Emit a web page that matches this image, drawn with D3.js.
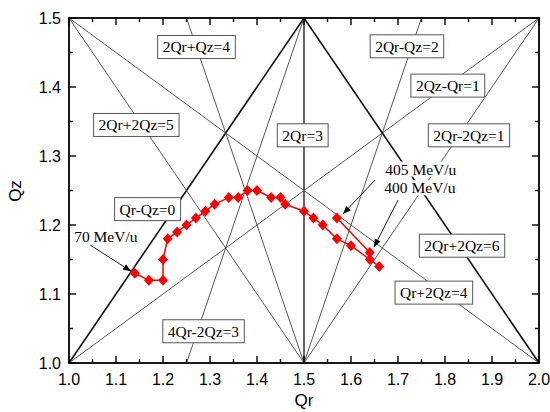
<!DOCTYPE html>
<html>
<head>
<meta charset="utf-8">
<script src="https://cdn.jsdelivr.net/npm/d3@7"></script>
<style>
body { margin: 0; background: #fff; }
</style>
</head>
<body>
<div id="chart"></div>
<script>
// tune data (Qr, Qz)
var qr = [1.14, 1.17, 1.20, 1.20, 1.21, 1.23, 1.25, 1.27, 1.29, 1.31, 1.34, 1.36, 1.38, 1.40, 1.43, 1.45, 1.46, 1.50, 1.52, 1.54, 1.57, 1.60, 1.64, 1.66]
var qz = [1.13, 1.12, 1.12, 1.15, 1.18, 1.19, 1.20, 1.21, 1.22, 1.23, 1.24, 1.24, 1.25, 1.25, 1.24, 1.24, 1.23, 1.22, 1.21, 1.20, 1.18, 1.17, 1.15, 1.14]
var qr_branch = [1.57, 1.64]
var qz_branch = [1.21, 1.16]

// resonance lines m*Qr + n*Qz = p
var res_m = [1, 2, 2, 2, 2, -1, 2, 2, 2, 1, 4]
var res_n = [-1, 0, 1, -1, 2, 2, -2, 2, 2, 2, -2]
var res_p = [0, 3, 4, 2, 5, 1, 1, 6, 6, 4, 3]
var res_text = ["Qr-Qz=0", "2Qr=3", "2Qr+Qz=4", "2Qr-Qz=2", "2Qr+2Qz=5", "2Qz-Qr=1", "2Qr-2Qz=1", "", "2Qr+2Qz=6", "Qr+2Qz=4", "4Qr-2Qz=3"]
var res_kind = ["thick", "mid", "thin", "thin", "thin", "thin", "thin", "thick", "none", "thin", "thin"]
// label box centres (Qr, Qz)
var lab_x = [1.167, 1.497, 1.271, 1.719, 1.143, 1.806, 1.851, 0, 1.836, 1.776, 1.286]
var lab_y = [1.223, 1.330, 1.458, 1.459, 1.345, 1.402, 1.330, 0, 1.170, 1.102, 1.046]

// energy notes
var note_text = ["70 MeV/u", "405 MeV/u", "400 MeV/u"]
var note_x = [1.011, 1.673, 1.671]
var note_y = [1.183, 1.281, 1.254]
var arrow_from = [[1.045, 1.171], [1.651, 1.265], [1.700, 1.236]]
var arrow_to = [[1.132, 1.133], [1.583, 1.216], [1.649, 1.168]]

var x_ticks = [1.0, 1.1, 1.2, 1.3, 1.4, 1.5, 1.6, 1.7, 1.8, 1.9, 2.0]
var y_ticks = [1.0, 1.1, 1.2, 1.3, 1.4, 1.5]

var svg = d3.select("#chart")
  .append("svg")
  .attr("width", 550)
  .attr("height", 412)

var x = d3.scaleLinear().domain([1, 2]).range([69, 539])
var y = d3.scaleLinear().domain([1, 1.5]).range([363, 18])

var defs = svg.append("defs")
defs.append("clipPath").attr("id", "plot")
  .append("rect")
  .attr("x", 69).attr("y", 18).attr("width", 470).attr("height", 345)
defs.append("marker")
  .attr("id", "head")
  .attr("viewBox", "0 -4 8 8")
  .attr("refX", 8).attr("refY", 0)
  .attr("markerWidth", 8).attr("markerHeight", 8)
  .attr("markerUnits", "userSpaceOnUse")
  .attr("orient", "auto")
  .append("path")
  .attr("d", "M0,-3.2L8,0L0,3.2Z")
  .attr("fill", "#000")

var lines_g = svg.append("g").attr("clip-path", "url(#plot)")
var style = {
  thick: {w: 1.6, c: "#111"},
  mid: {w: 1.3, c: "#111"},
  thin: {w: 0.9, c: "#444"}
}
res_m.forEach(function(m, i){
  if(res_kind[i] == "none") return
  let n = res_n[i], p = res_p[i]
  let x1, y1, x2, y2
  if(n == 0){
    x1 = x2 = p / m
    y1 = 1; y2 = 1.5
  } else {
    x1 = 1; x2 = 2
    y1 = (p - m * x1) / n
    y2 = (p - m * x2) / n
  }
  lines_g.append("line")
    .attr("x1", x(x1)).attr("y1", y(y1))
    .attr("x2", x(x2)).attr("y2", y(y2))
    .attr("stroke", style[res_kind[i]].c)
    .attr("stroke-width", style[res_kind[i]].w)
})

// arrows
arrow_from.forEach(function(f, i){
  svg.append("line")
    .attr("x1", x(f[0])).attr("y1", y(f[1]))
    .attr("x2", x(arrow_to[i][0])).attr("y2", y(arrow_to[i][1]))
    .attr("stroke", "#000")
    .attr("stroke-width", 0.9)
    .attr("marker-end", "url(#head)")
})

// data
var diamond = "M0,-5.5L5,0L0,5.5L-5,0Z"
function draw_series(xs, ys){
  let pts = xs.map(function(d, i){ return [d, ys[i]] })
  svg.append("path")
    .datum(pts)
    .attr("d", d3.line().x(function(d){ return x(d[0]) }).y(function(d){ return y(d[1]) }))
    .attr("fill", "none")
    .attr("stroke", "#ff0000")
    .attr("stroke-width", 1.5)
  svg.selectAll(null)
    .data(pts)
    .enter()
    .append("path")
    .attr("d", diamond)
    .attr("transform", function(d){ return "translate(" + x(d[0]) + "," + y(d[1]) + ")" })
    .attr("fill", "#ff0000")
}
draw_series(qr, qz)
draw_series(qr_branch, qz_branch)

// boxed resonance labels
res_text.forEach(function(t, i){
  if(t == "") return
  let g = svg.append("g")
  let txt = g.append("text")
    .attr("x", x(lab_x[i])).attr("y", y(lab_y[i]))
    .attr("text-anchor", "middle")
    .attr("dominant-baseline", "central")
    .attr("font-family", "Liberation Serif, Times New Roman, serif")
    .attr("font-size", 15.5)
    .text(t)
  let b = txt.node().getBBox()
  g.insert("rect", "text")
    .attr("x", b.x - 5).attr("y", y(lab_y[i]) - 11.5)
    .attr("width", b.width + 10).attr("height", 23)
    .attr("fill", "#fff")
    .attr("stroke", "#555")
    .attr("stroke-width", 1)
})

// energy notes (white background, no border)
note_text.forEach(function(t, i){
  let g = svg.append("g")
  let txt = g.append("text")
    .attr("x", x(note_x[i])).attr("y", y(note_y[i]))
    .attr("dominant-baseline", "central")
    .attr("font-family", "Liberation Serif, Times New Roman, serif")
    .attr("font-size", 15.5)
    .text(t)
  let b = txt.node().getBBox()
  g.insert("rect", "text")
    .attr("x", b.x - 1).attr("y", b.y + 1)
    .attr("width", b.width + 2).attr("height", b.height - 2)
    .attr("fill", "#fff")
})

// axes
var minor_x = d3.range(1.05, 2, 0.1)
var minor_y = d3.range(1.05, 1.5, 0.1)
var ax = svg.append("g").attr("stroke", "#000").attr("stroke-width", 1.4)
x_ticks.forEach(function(t){
  ax.append("line").attr("x1", x(t)).attr("x2", x(t)).attr("y1", 363).attr("y2", 356)
  ax.append("line").attr("x1", x(t)).attr("x2", x(t)).attr("y1", 18).attr("y2", 25)
})
minor_x.forEach(function(t){
  ax.append("line").attr("x1", x(t)).attr("x2", x(t)).attr("y1", 363).attr("y2", 359)
  ax.append("line").attr("x1", x(t)).attr("x2", x(t)).attr("y1", 18).attr("y2", 22)
})
y_ticks.forEach(function(t){
  ax.append("line").attr("x1", 69).attr("x2", 76).attr("y1", y(t)).attr("y2", y(t))
  ax.append("line").attr("x1", 539).attr("x2", 532).attr("y1", y(t)).attr("y2", y(t))
})
minor_y.forEach(function(t){
  ax.append("line").attr("x1", 69).attr("x2", 73).attr("y1", y(t)).attr("y2", y(t))
  ax.append("line").attr("x1", 539).attr("x2", 535).attr("y1", y(t)).attr("y2", y(t))
})
svg.append("rect")
  .attr("x", 69).attr("y", 18).attr("width", 470).attr("height", 345)
  .attr("fill", "none")
  .attr("stroke", "#000")
  .attr("stroke-width", 1.8)

svg.selectAll(".xl")
  .data(x_ticks)
  .enter()
  .append("text")
  .attr("x", function(d){ return x(d) })
  .attr("y", 385)
  .attr("text-anchor", "middle")
  .attr("font-family", "Liberation Sans, Arial, sans-serif")
  .attr("font-size", 16)
  .text(function(d){ return d.toFixed(1) })
svg.selectAll(".yl")
  .data(y_ticks)
  .enter()
  .append("text")
  .attr("x", 61)
  .attr("y", function(d){ return y(d) })
  .attr("text-anchor", "end")
  .attr("dominant-baseline", "central")
  .attr("font-family", "Liberation Sans, Arial, sans-serif")
  .attr("font-size", 16)
  .text(function(d){ return d.toFixed(1) })

svg.append("text")
  .attr("x", 304).attr("y", 406)
  .attr("text-anchor", "middle")
  .attr("font-family", "Liberation Sans, Arial, sans-serif")
  .attr("font-size", 17)
  .text("Qr")
svg.append("text")
  .attr("transform", "translate(21,191) rotate(-90)")
  .attr("text-anchor", "middle")
  .attr("font-family", "Liberation Sans, Arial, sans-serif")
  .attr("font-size", 17)
  .text("Qz")
</script>
</body>
</html>
